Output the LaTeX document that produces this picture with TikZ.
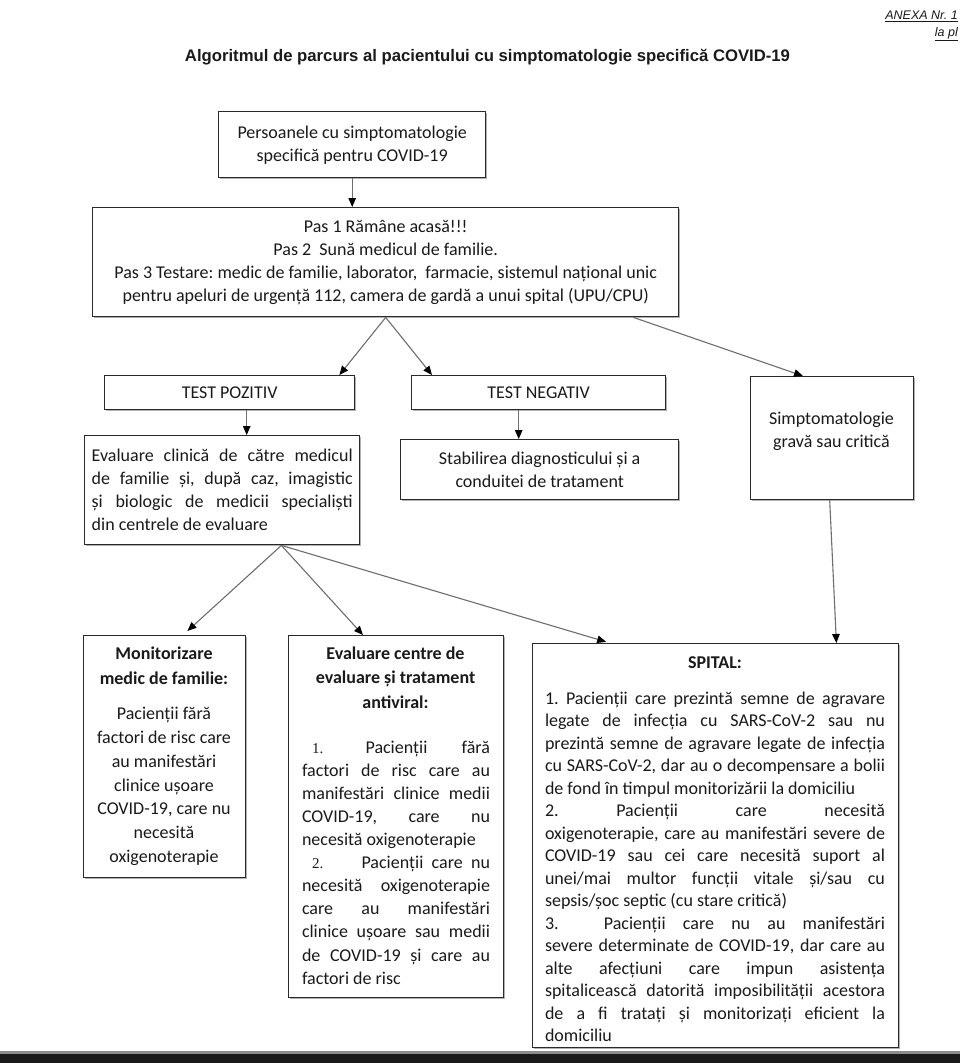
\documentclass[tikz,border=0pt]{standalone}
\usepackage{fontspec}
\setmainfont{Carlito}
\newfontfamily\arialfont{Liberation Sans}
\newfontfamily\timesfont{Liberation Serif}
\usetikzlibrary{arrows.meta,shadows}
\definecolor{txtc}{HTML}{1A1A1A}
\definecolor{boxc}{HTML}{2A2A2A}
\definecolor{arrc}{HTML}{6E6E6E}
\frenchspacing
\newcommand{\jset}{\frenchspacing\tolerance=10000\hbadness=10000\hyphenpenalty=10000\exhyphenpenalty=10000\relax}
\newcommand{\nr}[1]{{\timesfont\fontsize{15}{23}\selectfont #1}}
\tikzset{
  box/.style={draw=boxc, line width=1.4pt, fill=white, inner sep=0pt,
    drop shadow={shadow xshift=1.6pt, shadow yshift=-1.6pt, fill=black!55, opacity=0.55}},
  txt/.style={inner sep=0pt, text=txtc, font=\fontsize{18}{23}\selectfont},
  hd/.style={inner sep=0pt, text=txtc, align=center, font=\bfseries\fontsize{18}{24.5}\selectfont},
  arr/.style={draw=arrc, line width=1.1pt, -{Triangle[length=9pt,width=7.5pt,color=black]}},
}
\begin{document}
\begin{tikzpicture}[x=1pt,y=-1pt]
\useasboundingbox (0,0) rectangle (960,1063);
\fill[white] (0,0) rectangle (960,1063);
% header
\node[inner sep=0pt, anchor=east, text=txtc, font=\arialfont\itshape\fontsize{12.5}{15}\selectfont] (anexa) at (958,16) {\underline{ANEXA Nr. 1}};
\node[inner sep=0pt, anchor=east, text=txtc, font=\arialfont\itshape\fontsize{12.5}{15}\selectfont] (lapl) at (958,34) {\underline{la pl}};
\node[inner sep=0pt, text=txtc, font=\arialfont\bfseries\fontsize{16.7}{20}\selectfont] (title) at (487.5,57) {Algoritmul de parcurs al pacientului cu simptomatologie specifică COVID-19};
% boxes
\node[box, txt, anchor=north west, minimum width=267pt, minimum height=66pt, align=center] (b1) at (218,111) {Persoanele cu simptomatologie\\specifică pentru COVID-19};
\node[box, txt, anchor=north west, minimum width=586pt, minimum height=109pt, align=center] (b2) at (92,207) {Pas 1 Rămâne acasă!!!\\Pas 2\ \ Sună medicul de familie.\\Pas 3 Testare: medic de familie, laborator,\ \ farmacie, sistemul național unic\\pentru apeluri de urgență 112, camera de gardă a unui spital (UPU/CPU)};
\node[box, txt, anchor=north west, minimum width=250pt, minimum height=34pt] (tp) at (104,375) {TEST POZITIV};
\node[box, txt, anchor=north west, minimum width=254pt, minimum height=34pt] (tn) at (411,375) {TEST NEGATIV};
\node[box, txt, anchor=north west, minimum width=275pt, minimum height=109pt, text width=261pt, align=justify] (ec) at (84,435) {\jset Evaluare clinică de către medicul\linebreak de familie și, după caz, imagistic\linebreak și biologic de medicii specialiști\linebreak din centrele de evaluare};
\node[box, txt, anchor=north west, minimum width=278pt, minimum height=60pt, align=center] (st) at (400,439) {Stabilirea diagnosticului și a\\conduitei de tratament};
\node[box, anchor=north west, minimum width=163pt, minimum height=123pt] (simp) at (750,376) {};
\node[txt, align=center] (simpt) at (831.5,431) {Simptomatologie\\gravă sau critică};
% monitorizare
\node[box, anchor=north west, minimum width=162pt, minimum height=242pt] (mon) at (83,635) {};
\node[hd] (monh) at (164,665.5) {Monitorizare\\medic de familie:};
\node[txt, align=center, font=\fontsize{18}{23.8}\selectfont] (monb) at (164,786.5) {Pacienții fără\\factori de risc care\\au manifestări\\clinice ușoare\\COVID-19, care nu\\necesită\\oxigenoterapie};
% evaluare centre
\node[box, anchor=north west, minimum width=215pt, minimum height=362pt] (ev) at (288,635) {};
\node[hd] (evh) at (395.5,677.5) {Evaluare centre de\\evaluare și tratament\\antiviral:};
\node[txt, text width=188pt, align=justify, font=\fontsize{18}{23.1}\selectfont] (evb) at (396,862.5) {\jset\hspace*{10pt}\nr{1.}\hspace{8pt} Pacienții fără\linebreak factori de risc care au\linebreak manifestări clinice medii\linebreak COVID-19, care nu\linebreak necesită oxigenoterapie\newline\hspace*{10pt}\nr{2.}\hspace{30pt} Pacienții care nu\linebreak necesită oxigenoterapie\linebreak care au manifestări\linebreak clinice ușoare sau medii\linebreak de COVID-19 și care au\linebreak factori de risc};
% spital
\node[box, anchor=north west, minimum width=366pt, minimum height=404pt] (sp) at (532,643) {};
\node[hd] (sph) at (715,663) {SPITAL:};
\node[txt, text width=340pt, align=justify, font=\fontsize{18}{22.5}\selectfont] (spb) at (715,867) {\jset 1. Pacienții care prezintă semne de agravare\linebreak legate de infecția cu SARS-CoV-2 sau nu\linebreak prezintă semne de agravare legate de infecția\linebreak cu SARS-CoV-2, dar au o decompensare a bolii\linebreak de fond în timpul monitorizării la domiciliu\newline 2. Pacienții care necesită\linebreak oxigenoterapie, care au manifestări severe de\linebreak COVID-19 sau cei care necesită suport al\linebreak unei/mai multor funcții vitale și/sau cu\linebreak sepsis/șoc septic (cu stare critică)\newline 3.\hspace{28pt} Pacienții care nu au manifestări\linebreak severe determinate de COVID-19, dar care au\linebreak alte afecțiuni care impun asistența\linebreak spitalicească datorită imposibilității acestora\linebreak de a fi tratați și monitorizați eficient la\linebreak domiciliu};
% arrows
\draw[arr] (b1.south) -- (b1.south |- b2.north);
\draw[arr] (b2.south) -- ([xshift=-16pt]tp.north east);
\draw[arr] (b2.south) -- ([xshift=21pt]tn.north west);
\draw[arr] ([xshift=-46pt]b2.south east) -- ([xshift=53pt]simp.north west);
\draw[arr] ([xshift=17pt]tp.south) -- ([xshift=17pt]tp.south |- ec.north);
\draw[arr] ([xshift=-20pt]tn.south) -- ([xshift=-20pt]tn.south |- st.north);
\coordinate (ap) at ([xshift=-79pt]ec.south east);
\draw[arr, shorten >=6pt] (ap) -- ([xshift=100pt]mon.north west);
\draw[arr] (ap) -- ([xshift=75pt]ev.north west);
\draw[arr, shorten >=4pt] (ap) -- ([xshift=78pt]sp.north west);
\draw[arr] ([xshift=-2.5pt]simp.south) -- ([xshift=-63pt]sp.north east);
% bottom bar
\fill[black!45] (0,1051) rectangle (960,1054);
\fill[black!90] (0,1054) rectangle (960,1063);
\end{tikzpicture}
\end{document}
